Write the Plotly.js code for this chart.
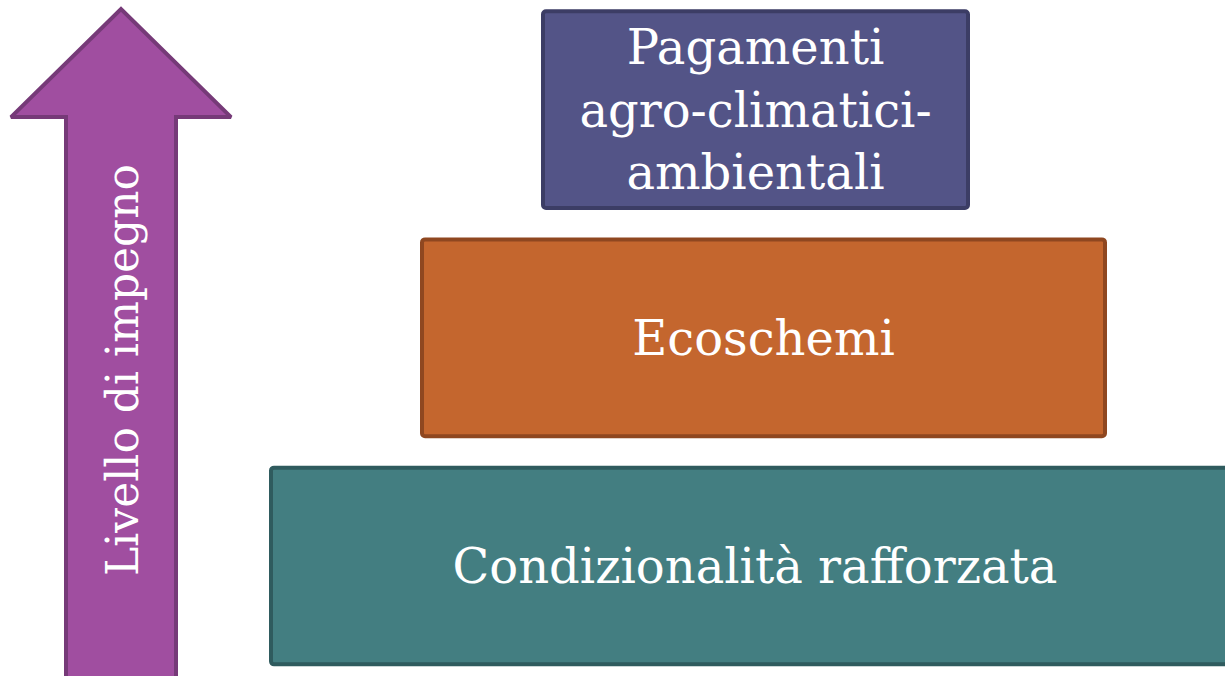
<!DOCTYPE html>
<html>
<head>
<meta charset="utf-8">
<script src="https://cdn.plot.ly/plotly-3.0.1.min.js"></script>
<style>html,body{margin:0;padding:0;background:#fff;}#chart{width:1225px;height:676px;}</style>
</head>
<body>
<div id="chart"></div>
<script>
// Levels of the pyramid (bottom to top)
const levels = ["Condizionalità rafforzata", "Ecoschemi", "Pagamenti<br>agro-climatici-<br>ambientali"];
const levelIndex = [0, 1, 2];
const levelStart = [271, 422, 543];
const levelEnd = [1239, 1105, 968];
const levelFill = ["#437e81", "#c4662e", "#535487"];
const levelLine = ["#2f5b5e", "#8f4720", "#3c3d65"];

// Arrow label
const arrowLabel = "Livello di impegno";
const arrowCenter = 121;
const arrowShaftHalf = 55;
const arrowHeadHalf = 110;
const arrowTip = 2.44;
const arrowHeadBase = 1.967;
const arrowBottom = -0.7;

const arrowX = [arrowCenter - arrowShaftHalf, arrowCenter - arrowShaftHalf, arrowCenter - arrowHeadHalf, arrowCenter,
  arrowCenter + arrowHeadHalf, arrowCenter + arrowShaftHalf, arrowCenter + arrowShaftHalf, arrowCenter - arrowShaftHalf];
const arrowY = [arrowBottom, arrowHeadBase, arrowHeadBase, arrowTip, arrowHeadBase, arrowHeadBase, arrowBottom, arrowBottom];

const widths = levelEnd.map((e, i) => e - levelStart[i]);

const traces = [
  {
    type: "scatter", mode: "lines", x: arrowX, y: arrowY, fill: "toself",
    fillcolor: "#a04ea0", line: {color: "#763a78", width: 4, shape: "linear"},
    hoverinfo: "skip", showlegend: false
  },
  {
    type: "bar", orientation: "h", y: levelIndex, x: widths, base: levelStart,
    width: 0.862, text: levels, textposition: "inside", insidetextanchor: "middle",
    textangle: 0, constraintext: "none",
    textfont: {family: "DejaVu Serif", size: 48, color: "#ffffff"},
    marker: {color: levelFill, line: {color: levelLine, width: 4}, cornerradius: 3},
    hoverinfo: "skip", showlegend: false
  }
];

const layout = {
  width: 1225, height: 676,
  margin: {l: 0, r: 0, t: 0, b: 0},
  paper_bgcolor: "#ffffff", plot_bgcolor: "#ffffff",
  xaxis: {range: [0, 1225], visible: false, fixedrange: true},
  yaxis: {range: [-0.482, 2.48], visible: false, fixedrange: true},
  showlegend: false,
  annotations: [{
    x: arrowCenter + 2, y: 0.859, xref: "x", yref: "y", text: arrowLabel, showarrow: false,
    textangle: -90, font: {family: "DejaVu Serif", size: 44, color: "#ffffff"}
  }]
};

Plotly.newPlot("chart", traces, layout, {staticPlot: true, displayModeBar: false});
</script>
</body>
</html>
